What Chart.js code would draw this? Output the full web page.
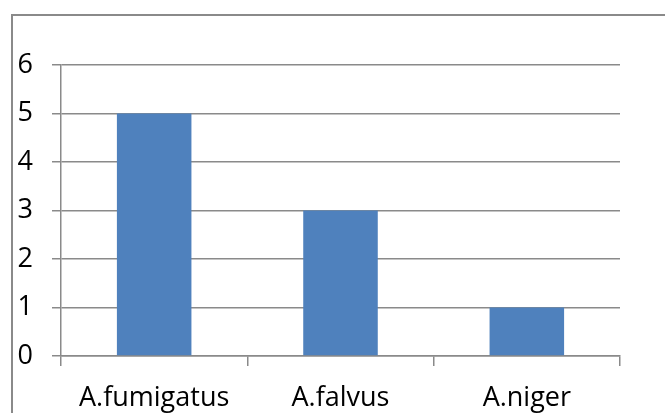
<!DOCTYPE html>
<html>
<head>
<meta charset="utf-8">
<script src="https://cdn.jsdelivr.net/npm/chart.js@4"></script>
<style>
  html, body { margin: 0; padding: 0; background: #fff; }
  #wrap { width: 665px; height: 413px; position: relative; }
</style>
</head>
<body>
<div id="wrap"><canvas id="fungi"></canvas></div>
<script>
// Anzahl der Isolate pro Art
const species = ['A.fumigatus', 'A.falvus', 'A.niger'];
const counts = [5, 3, 1];
const yTicks = [0, 1, 2, 3, 4, 5, 6];

const fontFam = '"Open Sans", Lato, sans-serif';

// Rahmen wie im Excel-Diagramm (links und oben)
const frame = {
  id: 'frame',
  beforeDraw(chart) {
    const c = chart.ctx;
    c.save();
    c.strokeStyle = '#8a8a8a';
    c.lineWidth = 2;
    c.beginPath();
    c.moveTo(12, 420);
    c.lineTo(12, 15);
    c.lineTo(700, 15);
    c.stroke();
    c.restore();
  }
};

new Chart(document.getElementById('fungi'), {
  type: 'bar',
  data: {
    labels: species,
    datasets: [{
      data: counts,
      backgroundColor: '#4F81BD',
      borderWidth: 0,
      barPercentage: 0.4,
      categoryPercentage: 1
    }]
  },
  options: {
    responsive: true,
    maintainAspectRatio: false,
    animation: false,
    layout: { padding: { left: 0, right: 45, top: 65, bottom: 0 } },
    plugins: { legend: { display: false }, tooltip: { enabled: false } },
    scales: {
      x: {
        afterFit(s) { s.height = 57; },
        grid: { drawOnChartArea: false, drawTicks: true, tickLength: 10, color: '#8a8a8a', lineWidth: 1.5 },
        border: { display: true, color: '#8a8a8a', width: 1.5 },
        ticks: { color: '#000', padding: 16, font: { family: fontFam, size: 27 } }
      },
      y: {
        min: 0,
        max: 6,
        afterFit(s) { s.width = 61; },
        afterBuildTicks(s) { s.ticks = yTicks.map(v => ({ value: v })); },
        grid: { color: '#8a8a8a', lineWidth: 1.5, tickLength: 9 },
        border: { display: true, color: '#8a8a8a', width: 1.5 },
        ticks: { color: '#000', padding: 19, font: { family: fontFam, size: 27 } }
      }
    }
  },
  plugins: [frame]
});
</script>
</body>
</html>
